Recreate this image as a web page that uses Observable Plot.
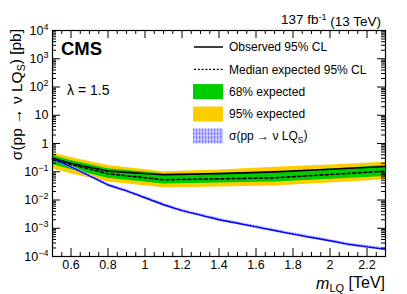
<!DOCTYPE html>
<html><head><meta charset="utf-8">
<script src="https://cdn.jsdelivr.net/npm/d3@7"></script>
<script src="https://cdn.jsdelivr.net/npm/@observablehq/plot@0.6"></script>
<style>
body{margin:0;background:#fff}
svg{font-family:"Liberation Sans",Arial,Helvetica,sans-serif}
</style>
</head><body><div id="chart"></div>
<script>
// ---- data ----
const massLimit = [0.5, 0.6, 0.7, 0.8, 1.1, 1.4, 1.7, 2.0, 2.3];
const observed  = [0.30, 0.20, 0.145, 0.105, 0.078, 0.086, 0.099, 0.123, 0.153];
const expected  = [0.265, 0.18, 0.125, 0.085, 0.052, 0.056, 0.061, 0.080, 0.105];
const exp68Hi   = [0.375, 0.25, 0.18, 0.127, 0.085, 0.088, 0.095, 0.125, 0.166];
const exp68Lo   = [0.18, 0.12, 0.085, 0.059, 0.037, 0.040, 0.043, 0.054, 0.068];
const exp95Hi   = [0.47, 0.32, 0.23, 0.166, 0.100, 0.115, 0.145, 0.175, 0.217];
const exp95Lo   = [0.127, 0.085, 0.060, 0.043, 0.027, 0.029, 0.031, 0.040, 0.052];

const massSignal = [0.5,0.6,0.7,0.8,0.9,1.0,1.1,1.2,1.3,1.4,1.5,1.6,1.7,1.8,1.9,2.0,2.1,2.2,2.3];
const sigmaSignal = [0.30,0.15,0.072,0.034,0.021,0.012,0.0068,0.0042,0.0029,0.0020,0.0015,0.00112,0.00083,0.00062,0.00047,0.00036,0.00027,0.00022,0.00018];
const sigmaUnc = 0.12; // relative theory uncertainty band

const xTicks = [0.6, 0.8, 1.0, 1.2, 1.4, 1.6, 1.8, 2.0, 2.2];
const xTickLabels = ["0.6","0.8","1","1.2","1.4","1.6","1.8","2","2.2"];
const yTicks = [1e-4, 1e-3, 1e-2, 1e-1, 1, 10, 1e2, 1e3, 1e4];
const yTickBase = ["10","10","10","10","1","10","10","10","10"];
const yTickExp  = ["\u22124","\u22123","\u22122","\u22121","","","2","3","4"];

const legendLabels = ["Observed 95% CL","Median expected 95% CL","68% expected","95% expected"];

// ---- tables ----
const limits = massLimit.map((m,i)=>({m, obs:observed[i], exp:expected[i], lo68:exp68Lo[i], hi68:exp68Hi[i], lo95:exp95Lo[i], hi95:exp95Hi[i]}));
const signal = massSignal.map((m,i)=>({m, s:sigmaSignal[i], lo:sigmaSignal[i]*(1-sigmaUnc), hi:sigmaSignal[i]*(1+sigmaUnc)}));

const idxOf = (arr, v) => arr.findIndex(t => Math.abs(Math.log10(t) - Math.log10(v)) < 1e-6);
const xIdx = v => xTicks.findIndex(t => Math.abs(t - v) < 1e-6);

// tick helpers
const xMinor = d3.range(0.55, 2.3, 0.05).map(v=>+v.toFixed(2)).filter(v=>xIdx(v) < 0);
const yMinor = [];
for (let e=-4; e<4; e++) for (let k=2; k<10; k++) yMinor.push(k*Math.pow(10,e));

const W = 407, H = 294, mL = 52, mR = 22, mT = 30, mB = 38;
const fw = W-mL-mR, fh = H-mT-mB;
const majLen = 8, minLen = 4;

const green = "#00cc00", yellow = "#ffcc00", blue = "#0000ff";

const plot = Plot.plot({
  width: W, height: H,
  marginLeft: mL, marginRight: mR, marginTop: mT, marginBottom: mB,
  style: {fontFamily: '"Liberation Sans", Arial, sans-serif', background: "#fff", color: "#000"},
  x: {domain: [0.5, 2.3], axis: null, label: null},
  y: {type: "log", domain: [1e-4, 1e4], axis: null, label: null},
  marks: [
    Plot.areaY(limits, {x:"m", y1:"lo95", y2:"hi95", fill: yellow}),
    Plot.areaY(limits, {x:"m", y1:"lo68", y2:"hi68", fill: green}),
    Plot.areaY(signal, {x:"m", y1:"lo", y2:"hi", fill: "url(#hatch)"}),
    Plot.line(limits, {x:"m", y:"exp", stroke:"#000", strokeWidth:1.6, strokeDasharray:"3,2.5"}),
    Plot.line(limits, {x:"m", y:"obs", stroke:"#000", strokeWidth:1.6}),
    Plot.line(signal, {x:"m", y:"s", stroke: blue, strokeWidth:1.4}),
    // ticks inside frame
    Plot.ruleX(xTicks, {insetTop: fh-majLen, stroke:"#000"}),
    Plot.ruleX(xTicks, {insetBottom: fh-majLen, stroke:"#000"}),
    Plot.ruleX(xMinor, {insetTop: fh-minLen, stroke:"#000"}),
    Plot.ruleX(xMinor, {insetBottom: fh-minLen, stroke:"#000"}),
    Plot.ruleY(yTicks, {insetRight: fw-majLen, stroke:"#000"}),
    Plot.ruleY(yTicks, {insetLeft: fw-majLen, stroke:"#000"}),
    Plot.ruleY(yMinor, {insetRight: fw-minLen, stroke:"#000"}),
    Plot.ruleY(yMinor, {insetLeft: fw-minLen, stroke:"#000"}),
    Plot.frame({stroke:"#000", strokeWidth:1.2}),
    Plot.axisX(xTicks, {label: null, tickSize:0, tickPadding:4, fontSize:12.5, tickFormat: d => xTickLabels[xIdx(d)]}),
    Plot.axisY(yTicks, {label: null, tickSize:0, tickPadding:4, fontSize:12.5, tickFormat: d => "L" + idxOf(yTicks, d)})
  ]
});

const svg = d3.select(plot);
svg.attr("font-family", '"Liberation Sans", Arial, sans-serif');

// hatch pattern
const defs = svg.insert("defs", ":first-child");
const pat = defs.append("pattern").attr("id","hatch").attr("patternUnits","userSpaceOnUse").attr("width",3).attr("height",4);
pat.append("rect").attr("width",3).attr("height",4).attr("fill","#c8c8ff");
pat.append("rect").attr("x",1).attr("width",1.2).attr("height",3).attr("fill","#7a7aff");

// superscript y tick labels
svg.selectAll("text").each(function(){
  const t = d3.select(this);
  const s = t.text();
  if (!/^L\d+$/.test(s)) return;
  const i = +s.slice(1);
  t.text(null);
  t.append("tspan").text(yTickBase[i]);
  if (yTickExp[i]) t.append("tspan").attr("dy","-0.55em").attr("font-size","9px").text(yTickExp[i]);
});

// text annotations
svg.append("text").attr("x", 61).attr("y", 55).attr("text-anchor","start").attr("font-weight","bold").attr("font-size","18.5px").text("CMS");
svg.append("text").attr("x", 67).attr("y", 95).attr("text-anchor","start").attr("font-size","14px").text("\u03bb = 1.5");

const lumi = svg.append("text").attr("x", 381).attr("y", 24).attr("text-anchor","end").attr("font-size","13.5px");
lumi.append("tspan").text("137 fb");
lumi.append("tspan").attr("dy","-0.5em").attr("font-size","9px").text("-1");
lumi.append("tspan").attr("dy","0.5em").text(" (13 TeV)");

const xl = svg.append("text").attr("x", 385).attr("y", 289).attr("text-anchor","end").attr("font-size","16px");
xl.append("tspan").attr("font-style","italic").text("m");
xl.append("tspan").attr("dy","0.3em").attr("font-size","11px").text("LQ");
xl.append("tspan").attr("dy","-0.3em").text(" [TeV]");

const yl = svg.append("text").attr("transform","translate(22,29) rotate(-90)").attr("text-anchor","end").attr("font-size","15.5px");
yl.append("tspan").text("\u03c3(pp \u2192 \u03bd LQ");
yl.append("tspan").attr("dy","0.3em").attr("font-size","10.5px").text("S");
yl.append("tspan").attr("dy","-0.3em").text(") [pb]");

// legend
const lg = svg.append("g").attr("font-size","12px").attr("text-anchor","start");
const lx0 = 193, lx1 = 223, tx = 229, rows = [47, 69.3, 91.6, 114, 136];
lg.append("line").attr("x1",lx0+1).attr("x2",lx1).attr("y1",rows[0]).attr("y2",rows[0]).attr("stroke","#000").attr("stroke-width",1.5);
lg.append("line").attr("x1",lx0+1).attr("x2",lx1).attr("y1",rows[1]).attr("y2",rows[1]).attr("stroke","#000").attr("stroke-width",1.3).attr("stroke-dasharray","2,1.8");
lg.append("rect").attr("x",lx0).attr("y",rows[2]-7.5).attr("width",lx1-lx0).attr("height",15).attr("fill",green);
lg.append("rect").attr("x",lx0).attr("y",rows[3]-7.5).attr("width",lx1-lx0).attr("height",15).attr("fill",yellow);
lg.append("rect").attr("x",lx0).attr("y",rows[4]-7.5).attr("width",lx1-lx0).attr("height",15).attr("fill","url(#hatch)");
legendLabels.forEach((s,i)=>lg.append("text").attr("x",tx).attr("y",rows[i]+4.3).text(s));
const sl = lg.append("text").attr("x",tx).attr("y",rows[4]+4.3);
sl.append("tspan").text("\u03c3(pp \u2192 \u03bd LQ");
sl.append("tspan").attr("dy","0.3em").attr("font-size","8.5px").text("S");
sl.append("tspan").attr("dy","-0.3em").text(")");

document.getElementById("chart").appendChild(plot);
</script>
</body></html>
